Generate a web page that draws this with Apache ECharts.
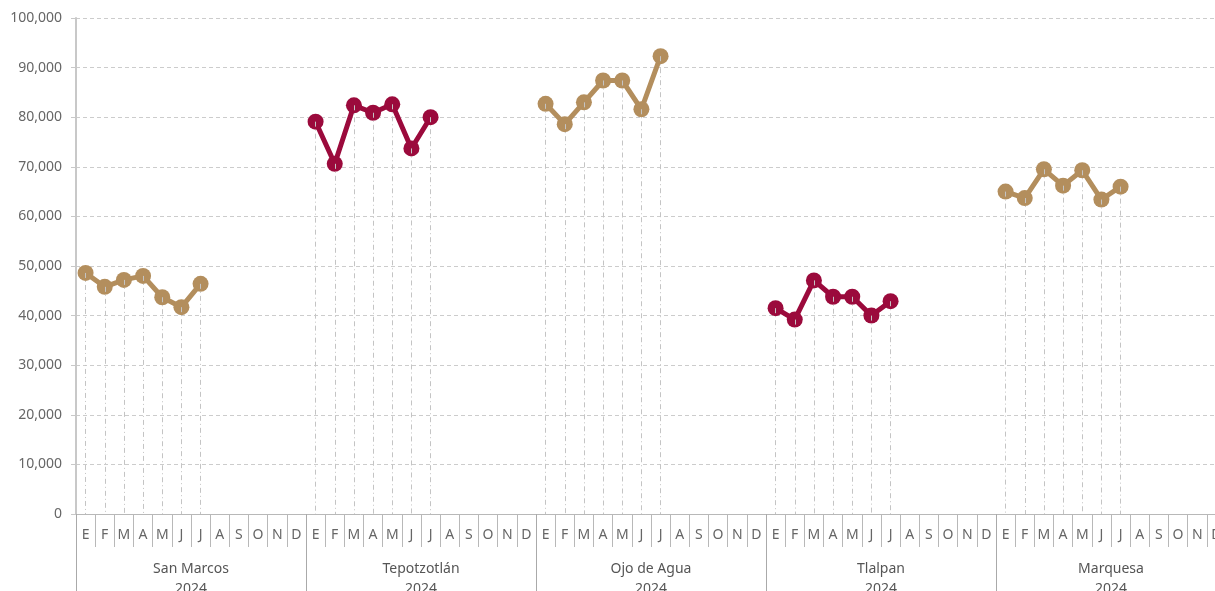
<!DOCTYPE html>
<html>
<head>
<meta charset="utf-8">
<script src="https://cdn.jsdelivr.net/npm/echarts@6/dist/echarts.min.js"></script>
<style>
html,body{margin:0;padding:0;background:#fff;}
#chart{width:1215px;height:591px;}
</style>
</head>
<body>
<div id="chart"></div>
<script>
// ---- data ----
const months = ['E','F','M','A','M','J','J','A','S','O','N','D'];
const locations = ['San Marcos','Tepotzotlán','Ojo de Agua','Tlalpan','Marquesa'];
const year = '2024';
const sanMarcos   = [48600, 45800, 47200, 48000, 43700, 41700, 46400];
const tepotzotlan = [79100, 70600, 82400, 80900, 82600, 73700, 80000];
const ojoDeAgua   = [82700, 78600, 83000, 87400, 87400, 81600, 92300];
const tlalpan     = [41500, 39200, 47100, 43800, 43800, 40000, 42900];
const marquesa    = [65000, 63700, 69500, 66200, 69300, 63400, 66000];
const yTicks = [0, 10000, 20000, 30000, 40000, 50000, 60000, 70000, 80000, 90000, 100000];

const seriesValues = [sanMarcos, tepotzotlan, ojoDeAgua, tlalpan, marquesa];
const colors = ['#B38E5D', '#9B0A3C', '#B38E5D', '#9B0A3C', '#B38E5D'];

const categories = [];
locations.forEach(() => months.forEach(m => categories.push(m)));

const font = 'Noto Sans';
const series = seriesValues.map((vals, gi) => {
  const data = categories.map(() => null);
  vals.forEach((v, i) => { data[gi * 12 + i] = v; });
  const drops = vals.map((v, i) => [
    { coord: [gi * 12 + i, v] },
    { coord: [gi * 12 + i, 0] }
  ]);
  return {
    type: 'line',
    name: locations[gi],
    data: data,
    connectNulls: false,
    symbol: 'circle',
    symbolSize: 16,
    lineStyle: { color: colors[gi], width: 5 },
    itemStyle: { color: colors[gi] },
    z: 3,
    markLine: {
      silent: true,
      symbol: 'none',
      label: { show: false },
      z: 5,
      lineStyle: { color: '#c4c4c4', width: 1, type: [5, 3, 1, 3] },
      emphasis: { disabled: true },
      data: drops
    }
  };
});

const chart = echarts.init(document.getElementById('chart'), null, { renderer: 'canvas' });
chart.setOption({
  animation: false,
  textStyle: { fontFamily: font },
  grid: { left: 76, right: -11, top: 18, bottom: 77, containLabel: false, outerBoundsMode: 'none' },
  xAxis: [
    {
      type: 'category',
      data: categories,
      boundaryGap: true,
      axisLine: { show: true, lineStyle: { color: '#b8b8b8', width: 1 } },
      axisTick: { show: true, interval: 0, length: 33, lineStyle: { color: '#b8b8b8' } },
      axisLabel: { interval: 0, margin: 14, color: '#666', fontSize: 14, fontFamily: font },
      splitLine: { show: false }
    },
    {
      type: 'category',
      data: locations.map(l => l + '\n' + year),
      position: 'bottom',
      boundaryGap: true,
      axisLine: { show: false },
      axisTick: { show: true, interval: 0, length: 80, lineStyle: { color: '#aaa' } },
      axisLabel: { interval: 0, margin: 45, color: '#555', fontSize: 14, lineHeight: 20, fontFamily: font },
      splitLine: { show: false }
    }
  ],
  yAxis: {
    type: 'value',
    min: yTicks[0],
    max: yTicks[yTicks.length - 1],
    interval: yTicks[1] - yTicks[0],
    axisLine: { show: true, lineStyle: { color: '#c8c8c8', width: 2 } },
    axisTick: { show: true, length: 5, lineStyle: { color: '#c8c8c8' } },
    axisLabel: {
      color: '#666', fontSize: 14, margin: 14, fontFamily: font,
      formatter: v => v.toLocaleString('en-US')
    },
    splitLine: { show: true, lineStyle: { color: '#cccccc', type: [4, 3] } }
  },
  series: series
});
</script>
</body>
</html>
